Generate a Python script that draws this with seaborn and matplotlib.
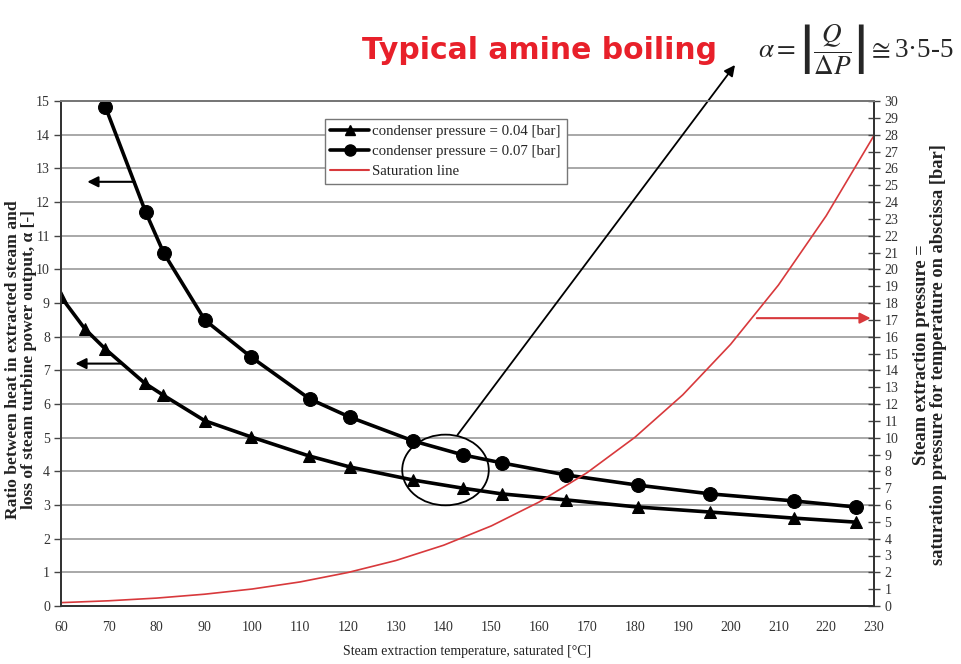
import numpy as np
import pandas as pd
import matplotlib
matplotlib.use("Agg")
import matplotlib.pyplot as plt
import seaborn as sns
from matplotlib.patches import Ellipse
from matplotlib.lines import Line2D

# ---- data ----
temp_004 = [60, 65, 69.3, 77.5, 81.3, 90.1, 99.8, 111.8, 120.4, 133.7, 144.0,
            152.2, 165.7, 180.6, 195.8, 213.3, 226.3]
alpha_004 = [9.18, 8.23, 7.63, 6.62, 6.27, 5.50, 5.02, 4.46, 4.13, 3.74, 3.50,
             3.33, 3.15, 2.94, 2.79, 2.61, 2.49]
temp_007 = [69.3, 77.7, 81.5, 90.1, 99.8, 112.0, 120.4, 133.7, 144.0, 152.2,
            165.7, 180.6, 195.8, 213.3, 226.3]
alpha_007 = [14.82, 11.70, 10.48, 8.49, 7.39, 6.15, 5.61, 4.90, 4.49, 4.25,
             3.89, 3.59, 3.33, 3.12, 2.94]
sat_temp = [60, 70, 80, 90, 100, 110, 120, 130, 140, 150, 160, 170, 180, 190,
            200, 210, 220, 230]
sat_pressure = [0.20, 0.31, 0.47, 0.70, 1.01, 1.43, 1.99, 2.70, 3.61, 4.76,
                6.18, 7.92, 10.02, 12.54, 15.54, 19.06, 23.18, 27.95]
legend_labels = ["condenser pressure = 0.04 [bar]",
                 "condenser pressure = 0.07 [bar]",
                 "Saturation line"]
x_ticks = list(range(60, 231, 10))
left_ticks = list(range(0, 16))
right_ticks = list(range(0, 31))

df004 = pd.DataFrame({"T": temp_004, "a": alpha_004})
df007 = pd.DataFrame({"T": temp_007, "a": alpha_007})
dfsat = pd.DataFrame({"T": sat_temp, "p": sat_pressure})

sns.set_style("white")
plt.rcParams["font.family"] = ["Liberation Serif", "DejaVu Serif"]
plt.rcParams["mathtext.fontset"] = "stix"

fig = plt.figure(figsize=(9.62, 6.64), dpi=100)
ax = fig.add_axes([61/962, 1-606/664, (874-61)/962, (606-101)/664])
ax2 = ax.twinx()

red = "#d8393c"
ax.grid(axis="y", color="#a8a8a8", lw=1.4)
ax.set_axisbelow(True)

sns.lineplot(data=df004, x="T", y="a", ax=ax, color="black", lw=2.6,
             marker="^", markersize=8, markeredgecolor="black", sort=False)
sns.lineplot(data=df007, x="T", y="a", ax=ax, color="black", lw=2.6,
             marker="o", markersize=10, markeredgecolor="black", sort=False)
sns.lineplot(data=dfsat, x="T", y="p", ax=ax2, color=red, lw=1.2, sort=False)

ax.set_xlim(60, 230)
ax.set_ylim(0, 15)
ax2.set_ylim(0, 30)
ax.set_xticks(x_ticks)
ax.set_yticks(left_ticks)
ax2.set_yticks(right_ticks)

tick_col = "#333333"
ax.tick_params(axis="y", direction="out", length=5, width=1, color="#444",
               labelsize=10, labelcolor=tick_col, pad=3)
ax.tick_params(axis="x", direction="inout", length=9, width=1, color="#444",
               labelsize=10, labelcolor=tick_col, pad=6)
ax2.tick_params(axis="y", direction="inout", length=9, width=1, color="#444",
                labelsize=10, labelcolor=tick_col, pad=3)

for a in (ax, ax2):
    for s in ("left", "right", "bottom"):
        a.spines[s].set_color("#333")
        a.spines[s].set_linewidth(1.3)
    a.spines["top"].set_color("#777")
    a.spines["top"].set_linewidth(1.4)

ax.set_xlabel("Steam extraction temperature, saturated [°C]", fontsize=10,
              color="#222", labelpad=8)
ax.set_ylabel("")
ax2.set_ylabel("")
fig.text(21/962, 1-360/664,
         "Ratio between heat in extracted steam and\n"
         "loss of steam turbine power output, α [-]",
         rotation=90, ha="center", va="center", multialignment="center",
         fontsize=12.6, fontweight="bold", color="#222", linespacing=1.02)
fig.text(930/962, 1-355/664,
         "Steam extraction pressure =\n"
         "saturation pressure for temperature on abscissa [bar]",
         rotation=90, ha="center", va="center", multialignment="center",
         fontsize=13.2, fontweight="bold", color="#222", linespacing=1.02)

# legend
handles = [Line2D([], [], color="black", lw=2.6, marker="^", markersize=7),
           Line2D([], [], color="black", lw=2.6, marker="o", markersize=8),
           Line2D([], [], color=red, lw=1.5)]
leg = ax2.legend(handles, legend_labels, loc="upper left",
                 bbox_to_anchor=(0.315, 0.98), fontsize=10.7, frameon=True,
                 fancybox=False, edgecolor="#777", framealpha=1,
                 handlelength=2.6, borderpad=0.4, labelspacing=0.45,
                 handletextpad=0.2)
leg.get_frame().set_linewidth(1.0)

# annotations
arrow_kw = dict(arrowstyle="-|>", color="black", lw=1.5, mutation_scale=16,
                shrinkA=0, shrinkB=0)
ax.annotate("", xy=(65.5, 12.6), xytext=(75.4, 12.6), arrowprops=arrow_kw)
ax.annotate("", xy=(63.0, 7.2), xytext=(72.8, 7.2), arrowprops=arrow_kw)
ax2.annotate("", xy=(229.3, 17.1), xytext=(205.5, 17.1),
             arrowprops=dict(arrow_kw, color=red))
ax.add_patch(Ellipse((140.4, 4.04), 18.1, 2.1, fill=False, ec="black",
                     lw=1.3, zorder=5))
ax.annotate("", xy=(735/962, 1-65/664), xycoords="figure fraction",
            xytext=(142.9, 5.08), textcoords="data",
            arrowprops=dict(arrowstyle="-|>", color="black", lw=1.3,
                            mutation_scale=16, shrinkA=0, shrinkB=0),
            annotation_clip=False)

fig.text(362/962, 1-59/664, "Typical amine boiling", color="#e8202a",
         fontweight="bold", fontsize=21.5, family="DejaVu Sans",
         va="baseline", ha="left")
fig.text(758/962, 1-50/664,
         r"$\alpha=\left|\dfrac{Q}{\Delta P}\right|\cong$3·5-5",
         fontsize=19.5, va="center", ha="left", family="Liberation Serif")

fig.savefig("out.png", dpi=100)
